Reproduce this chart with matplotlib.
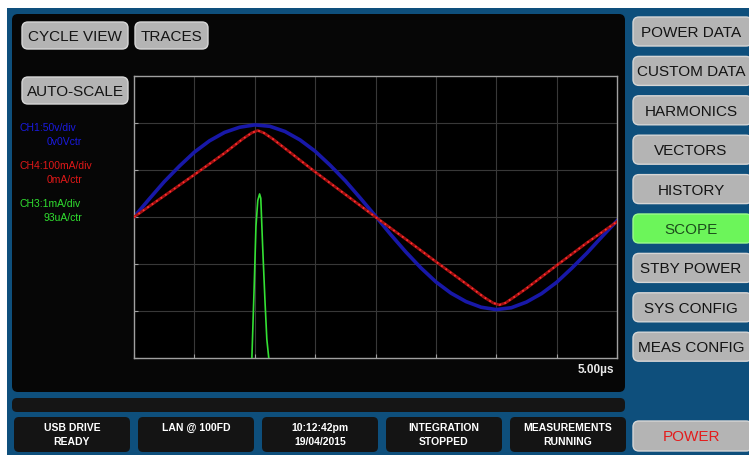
import matplotlib
matplotlib.use("Agg")
import matplotlib.pyplot as plt
from matplotlib.patches import FancyBboxPatch, Rectangle

# scope traces, x in divisions (0..8), y in divisions (-3..3)
t_blue=[0,0.25,0.5,0.75,1,1.25,1.5,1.75,2,2.25,2.5,2.75,3,3.25,3.5,3.75,4,
        4.25,4.5,4.75,5,5.25,5.5,5.75,6,6.25,6.5,6.75,7,7.25,7.5,7.75,8]
ch1=[0,0.38,0.75,1.08,1.38,1.62,1.8,1.91,1.96,1.93,1.82,1.64,1.4,1.1,0.77,0.4,0.02,
     -0.37,-0.74,-1.08,-1.38,-1.62,-1.8,-1.92,-1.97,-1.93,-1.81,-1.63,-1.39,-1.09,-0.77,-0.42,-0.08]
t_red=[0,0.5,1,1.5,1.8,1.95,2.05,2.15,2.3,2.5,3,3.5,4,4.5,5,5.5,5.8,5.95,6.05,6.15,6.3,6.5,7,7.5,8]
ch4=[0,0.45,0.9,1.36,1.66,1.79,1.84,1.79,1.66,1.46,0.96,0.48,0.0,-0.47,-0.95,-1.42,-1.71,-1.83,-1.87,-1.83,-1.7,-1.52,-1.03,-0.55,-0.1]
t_green=[1.95,1.99,2.02,2.05,2.08,2.1,2.13,2.17,2.2,2.24]
ch3=[-3.1,-1.5,-0.2,0.35,0.49,0.4,-0.6,-1.8,-2.6,-3.1]

ch_labels=[("CH1:50v/div","0v0Vctr","#1a1ae0"),
           ("CH4:100mA/div","0mA/ctr","#e01818"),
           ("CH3:1mA/div","93uA/ctr","#30e030")]
top_buttons=["CYCLE VIEW","TRACES"]
side_buttons=["POWER DATA","CUSTOM DATA","HARMONICS","VECTORS","HISTORY",
              "SCOPE","STBY POWER","SYS CONFIG","MEAS CONFIG"]
status=[("USB DRIVE","READY"),("LAN @ 100FD",""),("10:12:42pm","19/04/2015"),
        ("INTEGRATION","STOPPED"),("MEASUREMENTS","RUNNING")]

W,H=749,456
blue="#0e4f7c"
grey="#b4b4b4"
font=dict(family="Liberation Sans")

fig=plt.figure(figsize=(W/100,H/100),dpi=100,facecolor="white")
bg=fig.add_axes([0,0,1,1])
bg.set_xlim(0,W); bg.set_ylim(H,0); bg.axis("off")

def box(x0,y0,x1,y1,fc,ec="none",r=5,lw=1,z=1):
  bg.add_patch(FancyBboxPatch((x0+r,y0+r),x1-x0-2*r,y1-y0-2*r,
    boxstyle=f"round,pad={r}",fc=fc,ec=ec,lw=lw,zorder=z))

bg.add_patch(Rectangle((7,9),W-7,H-9,fc=blue,ec="none",zorder=0))
box(12,15,625,393,"#060606",r=6)
box(12,399,625,413,"#151515",r=5)

# top-left buttons
box(22,23,128,50,grey,"#d6d6d6",r=6,z=2)
bg.text(75,37,top_buttons[0],ha="center",va="center",fontsize=11,color="#141414",zorder=3,**font)
box(135,23,208,50,grey,"#d6d6d6",r=6,z=2)
bg.text(171.5,37,top_buttons[1],ha="center",va="center",fontsize=11,color="#141414",zorder=3,**font)
box(22,78,128,105,grey,"#d6d6d6",r=6,z=2)
bg.text(75,92,"AUTO-SCALE",ha="center",va="center",fontsize=11,color="#141414",zorder=3,**font)

# side menu
for i,name in enumerate(side_buttons):
  y0=18+i*39.4
  sel=name=="SCOPE"
  box(633,y0,752,y0+29,"#6cf55a" if sel else grey,"#9cfa8c" if sel else "#d6d6d6",r=6,z=2)
  bg.text(691,y0+15,name,ha="center",va="center",fontsize=11,
          color="#1c4d1c" if sel else "#141414",zorder=3,**font)
box(633,422,752,452,grey,"#d6d6d6",r=6,z=2)
bg.text(691,437,"POWER",ha="center",va="center",fontsize=11,color="#e41c1c",zorder=3,**font)

# status boxes
for i,(a,b) in enumerate(status):
  x0=14+i*124
  box(x0,418,x0+116,453,"#141414",r=5,z=2)
  bg.text(x0+58,428,a,ha="center",va="center",fontsize=7.5,color="white",
          fontweight="bold",zorder=3,**font)
  if b:
    bg.text(x0+58,442,b,ha="center",va="center",fontsize=7.5,color="white",
            fontweight="bold",zorder=3,**font)

# channel labels
for i,(a,b,c) in enumerate(ch_labels):
  y=128+i*38
  bg.text(20,y,a,ha="left",va="center",fontsize=7.5,color=c,zorder=3,**font)
  bg.text(82,y+14,b,ha="right",va="center",fontsize=7.5,color=c,zorder=3,**font)

bg.text(614,370,"5.00\u00b5s",ha="right",va="center",fontsize=8.5,color="#e8e8e8",
        fontweight="bold",zorder=3,**font)

# scope area
ax=fig.add_axes([134/W,1-359/H,483/W,282/H])
ax.set_facecolor("black")
ax.set_xlim(0,8); ax.set_ylim(-3,3)
for v in range(1,8): ax.axvline(v,color="#383838",lw=0.8,zorder=0)
for v in range(-2,3): ax.axhline(v,color="#383838",lw=0.8,zorder=0)
for s in ax.spines.values(): s.set_color("#a0a0a0"); s.set_linewidth(1)
ax.set_xticks(range(9)); ax.set_yticks(range(-3,4))
ax.tick_params(direction="in",length=3,color="#a0a0a0",labelbottom=False,labelleft=False)

ax.plot(t_blue,ch1,color="#1818a8",lw=2.6,zorder=2)
ax.plot(t_red,ch4,color="#a01010",lw=2.0,zorder=3)
ax.plot(t_red,ch4,color="#ff3030",lw=1.3,ls=(0,(1,2)),zorder=3)
ax.plot(t_green,ch3,color="#34e034",lw=1.2,zorder=4)

fig.savefig("out.png",dpi=100,facecolor="white")
